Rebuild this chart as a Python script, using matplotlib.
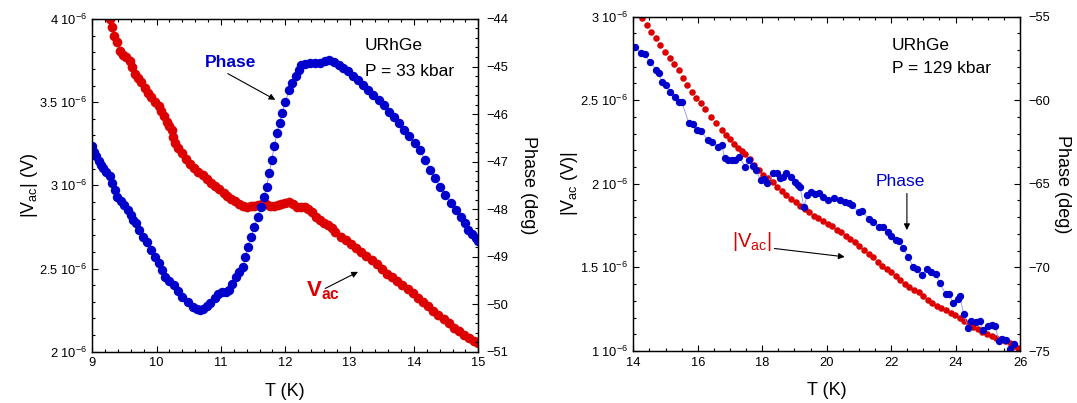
"""URhGe ac voltage and phase vs temperature at 33 kbar and 129 kbar."""

import matplotlib

matplotlib.use("Agg")
import matplotlib.pyplot as plt
from matplotlib.ticker import FuncFormatter, MultipleLocator
import numpy as np

plt.rcParams["font.family"] = ["Liberation Sans", "DejaVu Sans"]
plt.rcParams["mathtext.fontset"] = "custom"
plt.rcParams["mathtext.rm"] = "Liberation Sans"
plt.rcParams["mathtext.it"] = "Liberation Sans:italic"
plt.rcParams["mathtext.bf"] = "Liberation Sans:bold"

RED = "#dc0000"
BLUE = "#0000cc"

# --- 33 kbar: |Vac| (units of 1e-6 V) ---
t_v33 = [9.27, 9.30, 9.33, 9.38, 9.43, 9.47, 9.52, 9.58, 9.62, 9.67, 9.71, 9.76,
         9.82, 9.87, 9.92, 9.97, 10.03, 10.07, 10.11, 10.16, 10.20, 10.24, 10.26,
         10.28, 10.33, 10.40, 10.46, 10.52, 10.58, 10.65, 10.72, 10.78, 10.84,
         10.90, 10.97, 11.04, 11.10, 11.16, 11.22, 11.28, 11.34, 11.40, 11.46,
         11.52, 11.58, 11.64, 11.70, 11.76, 11.82, 11.88, 11.94, 12.00, 12.06,
         12.12, 12.18, 12.24, 12.30, 12.36, 12.42, 12.48, 12.54, 12.60, 12.66,
         12.72, 12.78, 12.86, 12.94, 13.02, 13.10, 13.18, 13.26, 13.34, 13.42,
         13.50, 13.58, 13.66, 13.74, 13.82, 13.90, 13.98, 14.06, 14.14, 14.22,
         14.30, 14.38, 14.46, 14.54, 14.62, 14.70, 14.78, 14.86, 14.93, 15.00]
v33 = [4.00, 3.95, 3.90, 3.86, 3.81, 3.785, 3.77, 3.745, 3.71, 3.67, 3.645, 3.62,
       3.585, 3.555, 3.53, 3.50, 3.474, 3.445, 3.414, 3.38, 3.355, 3.334, 3.29,
       3.254, 3.225, 3.194, 3.16, 3.13, 3.105, 3.08, 3.063, 3.04, 3.015,
       2.995, 2.975, 2.953, 2.935, 2.92, 2.905, 2.885, 2.873, 2.872, 2.875,
       2.877, 2.882, 2.888, 2.886, 2.875, 2.874, 2.882, 2.888, 2.892, 2.897,
       2.885, 2.872, 2.869, 2.868, 2.857, 2.838, 2.81, 2.792, 2.775, 2.762,
       2.745, 2.72, 2.692, 2.67, 2.645, 2.625, 2.60, 2.575, 2.552, 2.525,
       2.495, 2.47, 2.448, 2.425, 2.40, 2.375, 2.35, 2.325, 2.301, 2.275,
       2.245, 2.22, 2.195, 2.17, 2.145, 2.125, 2.10, 2.08, 2.065, 2.05]

# --- 33 kbar: phase (deg) ---
t_p33 = [9.00, 9.03, 9.06, 9.10, 9.14, 9.17, 9.22, 9.28, 9.31, 9.35, 9.39, 9.44,
         9.50, 9.55, 9.60, 9.64, 9.68, 9.73, 9.79, 9.85, 9.92, 9.98, 10.03, 10.08,
         10.13, 10.20, 10.27, 10.33, 10.40, 10.48, 10.56, 10.62, 10.67, 10.72,
         10.78, 10.83, 10.90, 10.96, 11.02, 11.08, 11.12, 11.17, 11.23, 11.28,
         11.34, 11.38, 11.42, 11.47, 11.52, 11.57, 11.63, 11.67, 11.71, 11.75,
         11.79, 11.83, 11.87, 11.91, 11.95, 12.00, 12.06, 12.11, 12.17, 12.21,
         12.25, 12.31, 12.38, 12.46, 12.54, 12.61, 12.68, 12.76, 12.84, 12.90,
         12.97, 13.05, 13.13, 13.21, 13.29, 13.37, 13.45, 13.53, 13.61, 13.69,
         13.77, 13.85, 13.93, 14.01, 14.09, 14.17, 14.25, 14.33, 14.41, 14.49,
         14.57, 14.65, 14.73, 14.79, 14.84, 14.90, 14.97, 15.00]
p33 = [-46.67, -46.80, -46.89, -46.98, -47.08, -47.14, -47.22, -47.31, -47.45,
       -47.60, -47.74, -47.82, -47.92, -48.02, -48.13, -48.22, -48.30, -48.44,
       -48.58, -48.70, -48.86, -49.00, -49.14, -49.28, -49.42, -49.52, -49.60,
       -49.72, -49.84, -49.96, -50.05, -50.10, -50.12, -50.10, -50.04, -49.98,
       -49.88, -49.78, -49.75, -49.74, -49.70, -49.57, -49.42, -49.33, -49.21,
       -49.00, -48.79, -48.58, -48.37, -48.16, -47.95, -47.74, -47.53, -47.25,
       -46.96, -46.68, -46.40, -46.19, -45.98, -45.75, -45.49, -45.35, -45.21,
       -45.08, -44.96, -44.94, -44.93, -44.92, -44.93, -44.89, -44.86, -44.90,
       -44.96, -45.03, -45.10, -45.19, -45.28, -45.38, -45.49, -45.60, -45.70,
       -45.82, -45.95, -46.07, -46.19, -46.33, -46.47, -46.61, -46.75, -46.96,
       -47.17, -47.35, -47.53, -47.70, -47.88, -48.02, -48.16, -48.30, -48.44,
       -48.52, -48.61, -48.68]

# --- 129 kbar: |Vac| (units of 1e-6 V) ---
t_v129 = [14.28, 14.42, 14.56, 14.70, 14.84, 14.99, 15.13, 15.27, 15.41, 15.55,
          15.68, 15.82, 15.96, 16.10, 16.24, 16.42, 16.56, 16.74, 16.88, 17.00,
          17.11, 17.25, 17.38, 17.48, 17.62, 17.76, 17.90, 18.04, 18.18, 18.33,
          18.47, 18.61, 18.75, 18.90, 19.04, 19.18, 19.32, 19.46, 19.60, 19.74,
          19.88, 20.03, 20.17, 20.31, 20.45, 20.59, 20.73, 20.87, 21.01, 21.16,
          21.30, 21.44, 21.58, 21.72, 21.86, 22.00, 22.15, 22.29, 22.43, 22.57,
          22.71, 22.85, 23.00, 23.14, 23.28, 23.42, 23.56, 23.70, 23.85, 23.99,
          24.13, 24.27, 24.41, 24.55, 24.69, 24.83, 24.97, 25.12, 25.26, 25.40,
          25.54, 25.68, 25.82, 25.93]
v129 = [2.99, 2.95, 2.91, 2.87, 2.83, 2.79, 2.75, 2.715, 2.68, 2.63,
        2.59, 2.55, 2.515, 2.48, 2.445, 2.40, 2.365, 2.32, 2.29, 2.265,
        2.24, 2.215, 2.195, 2.18, 2.15, 2.11, 2.08, 2.055, 2.035, 2.01,
        1.98, 1.955, 1.93, 1.91, 1.89, 1.87, 1.85, 1.83, 1.81, 1.795,
        1.775, 1.76, 1.745, 1.725, 1.71, 1.69, 1.67, 1.65, 1.625, 1.605,
        1.58, 1.56, 1.535, 1.51, 1.49, 1.47, 1.45, 1.425, 1.40, 1.38,
        1.365, 1.35, 1.33, 1.305, 1.29, 1.27, 1.255, 1.245, 1.23, 1.215,
        1.195, 1.18, 1.16, 1.145, 1.13, 1.115, 1.10, 1.09, 1.08, 1.07,
        1.06, 1.045, 1.03, 1.02]

# --- 129 kbar: phase (deg) ---
t_p129 = [14.06, 14.24, 14.35, 14.51, 14.72, 14.80, 14.88, 15.00, 15.15, 15.28,
          15.41, 15.50, 15.73, 15.85, 15.99, 16.10, 16.31, 16.45, 16.63, 16.75,
          16.84, 16.95, 17.05, 17.17, 17.27, 17.48, 17.58, 17.70, 17.80, 17.95,
          18.05, 18.16, 18.33, 18.45, 18.54, 18.65, 18.75, 18.90, 19.02, 19.10,
          19.18, 19.29, 19.40, 19.50, 19.65, 19.77, 19.90, 20.03, 20.24, 20.40,
          20.56, 20.68, 20.78, 20.99, 21.10, 21.30, 21.45, 21.62, 21.75, 21.89,
          22.00, 22.15, 22.25, 22.37, 22.53, 22.68, 22.80, 22.95, 23.11, 23.25,
          23.38, 23.51, 23.69, 23.80, 23.92, 24.06, 24.13, 24.25, 24.39, 24.49,
          24.62, 24.75, 24.85, 25.01, 25.12, 25.22, 25.35, 25.45, 25.56, 25.68,
          25.81]
p129 = [-56.80, -57.20, -57.25, -57.69, -58.19, -58.40, -58.89, -59.10, -59.49,
        -59.80, -60.09, -60.10, -61.39, -61.40, -61.79, -61.85, -62.39, -62.50,
        -62.78, -62.70, -63.48, -63.58, -63.58, -63.55, -63.38, -63.98, -63.58,
        -63.95, -64.18, -64.78, -64.70, -64.98, -64.38, -64.35, -64.68, -64.60,
        -64.38, -64.60, -64.88, -65.10, -65.18, -66.38, -65.70, -65.48, -65.60,
        -65.58, -65.80, -65.98, -65.88, -65.95, -66.08, -66.15, -66.28, -66.68,
        -66.65, -67.08, -67.30, -67.58, -67.60, -67.87, -68.10, -68.37, -68.40,
        -68.87, -69.37, -69.96, -70.10, -70.47, -70.07, -70.25, -70.37, -70.95,
        -71.57, -71.60, -72.14, -71.90, -71.70, -72.80, -73.64, -73.20, -73.25,
        -73.20, -73.74, -73.50, -73.46, -73.50, -74.38, -74.30, -74.34, -74.88,
        -74.60]

TICK_FS = 9.3
LABEL_FS = 13


def _volt_fmt(v, _pos):
    m = round(v * 1e6, 3)
    return f"{m:g} 10$^{{-6}}$"


def _arrow(ax, start, end):
    ax.annotate("", xy=end, xytext=start,
                arrowprops=dict(arrowstyle="-|>", color="black", lw=0.8,
                                mutation_scale=9, shrinkA=0, shrinkB=0))


def style_axes(ax, ax2, x_major, x_minor, v_major, v_minor, p_major, p_minor):
    for a in (ax, ax2):
        for sp in a.spines.values():
            sp.set_linewidth(0.9)
    ax.xaxis.set_major_locator(MultipleLocator(x_major))
    ax.xaxis.set_minor_locator(MultipleLocator(x_minor))
    ax.yaxis.set_major_locator(MultipleLocator(v_major))
    ax.yaxis.set_minor_locator(MultipleLocator(v_minor))
    ax.yaxis.set_major_formatter(FuncFormatter(_volt_fmt))
    ax2.yaxis.set_major_locator(MultipleLocator(p_major))
    ax2.yaxis.set_minor_locator(MultipleLocator(p_minor))
    ax.tick_params(which="both", direction="in", top=True, right=False,
                   labelsize=TICK_FS, width=0.8, pad=4)
    ax.tick_params(which="major", length=4.5)
    ax.tick_params(which="minor", length=2.3)
    ax2.tick_params(which="both", direction="in", labelsize=TICK_FS, width=0.8, pad=6)
    ax2.tick_params(which="major", length=4.5)
    ax2.tick_params(which="minor", length=2.3)


fig = plt.figure(figsize=(10.77, 4.03), dpi=100)

# ---------------- left panel: 33 kbar ----------------
axL = fig.add_axes([0.0857, 0.1273, 0.3584, 0.8256])
axL2 = axL.twinx()
axL.plot(t_v33, np.array(v33) * 1e-6, "o", color=RED, ms=7.0, mec=RED, mew=0)
axL2.plot(t_p33, p33, "-", color="#7f7fff", lw=0.6)
axL2.plot(t_p33, p33, "o", color=BLUE, ms=6.8, mec=BLUE, mew=0)
axL.set_xlim(9, 15)
axL.set_ylim(2e-6, 4e-6)
axL2.set_ylim(-51, -44)
style_axes(axL, axL2, 1, 0.2, 0.5e-6, 0.1e-6, 1, 0.2)
axL.set_xlabel("T (K)", fontsize=LABEL_FS)
axL.xaxis.set_label_coords(0.5, -0.094)
axL.set_ylabel(r"|V$_{\mathrm{ac}}$| (V)", fontsize=LABEL_FS)
axL.yaxis.set_label_coords(-0.135, 0.5)
axL2.set_ylabel("Phase (deg)", fontsize=LABEL_FS, rotation=270, va="center")
axL2.yaxis.set_label_coords(1.131, 0.5)

axL2.text(11.15, -44.91, "Phase", color=BLUE, fontsize=12.5, fontweight="bold",
          ha="center", va="center")
_arrow(axL2, (11.107, -45.15), (11.845, -45.70))
axL2.text(12.32, -49.84, r"$\mathbf{V_{ac}}$", color=RED, fontsize=16,
          ha="left", va="baseline")
_arrow(axL2, (12.62, -49.67), (13.13, -49.32))
axL2.text(13.235, -44.66, "URhGe", fontsize=12.5, ha="left", va="baseline")
axL2.text(13.235, -45.19, "P = 33 kbar", fontsize=12.5, ha="left", va="baseline")

# ---------------- right panel: 129 kbar ----------------
axR = fig.add_axes([0.588, 0.129, 0.3591, 0.830])
axR2 = axR.twinx()
axR.plot(t_v129, np.array(v129) * 1e-6, "o", color=RED, ms=4.7, mec=RED, mew=0)
axR2.plot(t_p129, p129, "-", color="#8f8fff", lw=0.6)
axR2.plot(t_p129, p129, "o", color=BLUE, ms=5.3, mec=BLUE, mew=0)
axR.set_xlim(14, 26)
axR.set_ylim(1e-6, 3e-6)
axR2.set_ylim(-75, -55)
style_axes(axR, axR2, 2, 0.5, 0.5e-6, 0.1e-6, 5, 1)
axR.set_xlabel("T (K)", fontsize=LABEL_FS)
axR.xaxis.set_label_coords(0.5, -0.094)
axR.set_ylabel(r"|V$_{\mathrm{ac}}$ (V)|", fontsize=LABEL_FS)
axR.yaxis.set_label_coords(-0.138, 0.5)
axR2.set_ylabel("Phase (deg)", fontsize=LABEL_FS, rotation=270, va="center")
axR2.yaxis.set_label_coords(1.109, 0.5)

axR2.text(22.29, -64.88, "Phase", color=BLUE, fontsize=12.5, ha="center", va="center")
_arrow(axR2, (22.49, -65.58), (22.49, -67.77))
axR2.text(17.06, -68.77, r"$|\mathrm{V_{ac}}|$", color=RED, fontsize=14.5,
          ha="left", va="baseline")
_arrow(axR2, (18.38, -68.87), (20.56, -69.37))
axR2.text(22.02, -57.0, "URhGe", fontsize=12.5, ha="left", va="baseline")
axR2.text(22.02, -58.39, "P = 129 kbar", fontsize=12.5, ha="left", va="baseline")

fig.savefig("out.png", dpi=100)
